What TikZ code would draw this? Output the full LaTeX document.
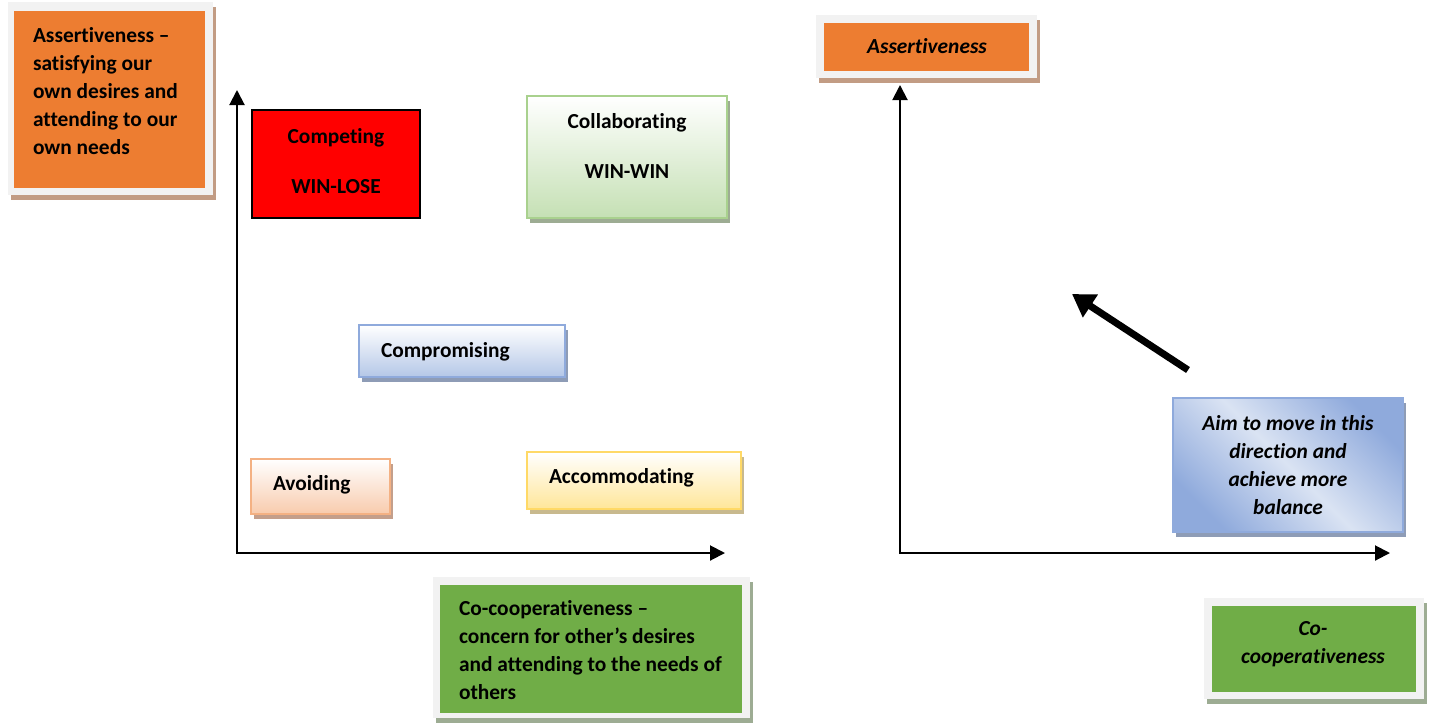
\documentclass[tikz,border=0pt]{standalone}
\usepackage{fontspec}
\setmainfont{Carlito}[Ligatures=NoCommon]
\usetikzlibrary{shadows,arrows.meta}

\definecolor{frameGray}{HTML}{F2F2F2}
\definecolor{assertOrange}{HTML}{ED7D31}
\definecolor{orangeShadow}{HTML}{C29C84}
\definecolor{coopGreen}{HTML}{70AD47}
\definecolor{greenShadow}{HTML}{9DAC93}
\definecolor{collabBorder}{HTML}{A9D18E}
\definecolor{collabFill}{HTML}{C5E0B4}
\definecolor{blueBorder}{HTML}{8FAADC}
\definecolor{blueFill}{HTML}{B4C7E7}
\definecolor{blueLight}{HTML}{DAE3F3}
\definecolor{blueShadow}{HTML}{8E9CB6}
\definecolor{avoidBorder}{HTML}{F4B183}
\definecolor{avoidFill}{HTML}{F8CBAD}
\definecolor{avoidShadow}{HTML}{C49F8B}
\definecolor{accomBorder}{HTML}{FFD966}
\definecolor{accomFill}{HTML}{FFE699}
\definecolor{accomShadow}{HTML}{C8B98E}

\begin{document}
\begin{tikzpicture}[x=1pt,y=-1pt]
    \tikzstyle{every node} = [font=\fontsize{21.4}{28}\selectfont\bfseries, inner sep=0pt, outer sep=0pt]
    \tikzstyle{frame} = [fill=frameGray, anchor=north west]
    \tikzstyle{block} = [anchor=north west, line width=2pt, shading=axis]
    \tikzstyle{italictext} = [font=\fontsize{21.4}{28}\selectfont\bfseries\itshape]
    \tikzstyle{axis} = [line width=2pt, -{Triangle[length=15pt,width=15pt]}]
    \useasboundingbox (0,0) rectangle (1429,724);

    % left chart: axes
    \coordinate (origin) at (237,553);
    \coordinate (yEnd) at (237,90);
    \coordinate (xEnd) at (725,553);
    \draw[axis] ([yshift=-1pt]origin)--(yEnd);
    \draw[axis] ([xshift=-1pt]origin)--(xEnd);

    % left chart: label boxes
    \node[frame, minimum width=205, minimum height=193,
          drop shadow={shadow xshift=3pt, shadow yshift=-5pt, fill=orangeShadow, opacity=1}]
          (assertFrame) at (8,2) {};
    \node[fill=assertOrange, anchor=north west, minimum width=191, minimum height=177] (assertBox) at (14,11) {};
    \node[anchor=north west, align=left] (assertText) at (33,27)
          {Assertiveness --\\satisfying our\\own desires and\\attending to our\\own needs};

    \node[frame, minimum width=317, minimum height=141,
          drop shadow={shadow xshift=3pt, shadow yshift=-5pt, fill=greenShadow, opacity=1}]
          (coopFrame) at (433,577) {};
    \node[fill=coopGreen, anchor=north west, minimum width=302, minimum height=128] (coopBox) at (440,585) {};
    \node[anchor=north west, align=left] (coopText) at (459,600)
          {Co-cooperativeness --\\concern for other's desires\\and attending to the needs of\\others};

    % left chart: styles
    \node[anchor=north west, fill=red, draw=black, line width=1.5pt, minimum width=168, minimum height=108]
          (competing) at (252,110) {};
    \node[anchor=north, align=center] (competingText) at (336,128) {Competing\\[22pt]WIN-LOSE};

    \node[block, draw=collabBorder, top color=white, bottom color=collabFill, minimum width=200, minimum height=122,
          drop shadow={shadow xshift=3pt, shadow yshift=-5pt, fill=greenShadow, opacity=1}]
          (collaborating) at (527,96) {};
    \node[anchor=north, align=center] (collaboratingText) at (627,113) {Collaborating\\[22pt]WIN-WIN};

    \node[block, draw=blueBorder, top color=white, bottom color=blueFill, minimum width=206, minimum height=52,
          drop shadow={shadow xshift=3pt, shadow yshift=-5pt, fill=blueShadow, opacity=1}]
          (compromising) at (359,325) {};
    \node[anchor=base west] (compromisingText) at (381,357) {Compromising};

    \node[block, draw=avoidBorder, top color=white, bottom color=avoidFill, minimum width=139, minimum height=55,
          drop shadow={shadow xshift=3pt, shadow yshift=-5pt, fill=avoidShadow, opacity=1}]
          (avoiding) at (251,459) {};
    \node[anchor=base west] (avoidingText) at (273,490) {Avoiding};

    \node[block, draw=accomBorder, top color=white, bottom color=accomFill, minimum width=214, minimum height=57,
          drop shadow={shadow xshift=3pt, shadow yshift=-5pt, fill=accomShadow, opacity=1}]
          (accommodating) at (527,452) {};
    \node[anchor=base west] (accommodatingText) at (549,483) {Accommodating};

    % right chart: axes
    \coordinate (originR) at (900,553);
    \coordinate (yEndR) at (900,85);
    \coordinate (xEndR) at (1390,553);
    \draw[axis] ([yshift=-1pt]originR)--(yEndR);
    \draw[axis] ([xshift=-1pt]originR)--(xEndR);

    % right chart: label boxes
    \node[frame, minimum width=221, minimum height=63,
          drop shadow={shadow xshift=3pt, shadow yshift=-5pt, fill=orangeShadow, opacity=1}]
          (assertFrameR) at (816,15) {};
    \node[fill=assertOrange, anchor=north west, minimum width=205, minimum height=48] (assertBoxR) at (824,23) {};
    \node[anchor=base, italictext] (assertTextR) at (927,53) {Assertiveness};

    \node[frame, minimum width=220, minimum height=101,
          drop shadow={shadow xshift=3pt, shadow yshift=-5pt, fill=greenShadow, opacity=1}]
          (coopFrameR) at (1204,598) {};
    \node[fill=coopGreen, anchor=north west, minimum width=204, minimum height=86] (coopBoxR) at (1212,606) {};
    \node[anchor=north, align=center, italictext] (coopTextR) at (1313,621)
          {Co-\\cooperativeness};

    \node[block, draw=blueBorder, line width=1.5pt, top color=blueBorder, bottom color=blueBorder, middle color=blueLight,
          shading angle=-45, minimum width=230, minimum height=134,
          drop shadow={shadow xshift=3pt, shadow yshift=-5pt, fill=blueShadow, opacity=1}]
          (aim) at (1173,398) {};
    \node[anchor=north, align=center, italictext] (aimText) at (1288,415)
          {Aim to move in this\\direction and\\achieve more\\balance};

    % direction arrow
    \coordinate (moveFrom) at (1188,370);
    \coordinate (moveTo) at (1072,294);
    \draw[line width=7pt, -{Triangle[length=22pt,width=26pt]}] (moveFrom)--(moveTo);
\end{tikzpicture}
\end{document}
